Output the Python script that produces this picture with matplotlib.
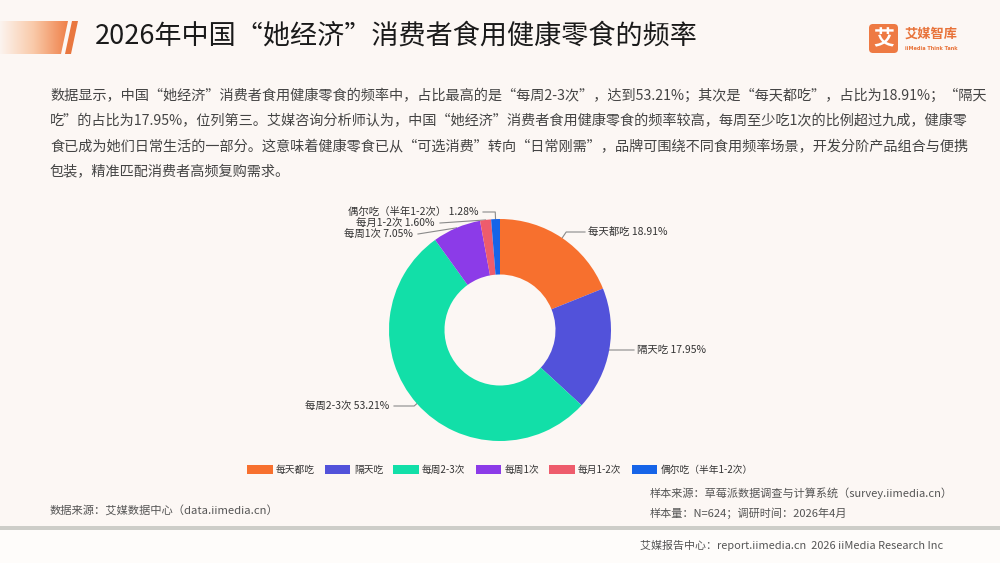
import matplotlib
matplotlib.use('Agg')
import matplotlib.pyplot as plt
import numpy as np
from matplotlib.patches import Polygon, FancyBboxPatch, Rectangle
from matplotlib.colors import LinearSegmentedColormap

plt.rcParams['font.family'] = ['Noto Sans CJK SC', 'DejaVu Sans']

categories = ['每天都吃', '隔天吃', '每周2-3次', '每周1次', '每月1-2次', '偶尔吃（半年1-2次）']
shares = [18.91, 17.95, 53.21, 7.05, 1.60, 1.28]
colors = ['#F7702E', '#5252DA', '#12DFA8', '#8C3BE8', '#EE5C6C', '#1664E8']

title = '2026年中国“她经济”消费者食用健康零食的频率'
para = [
    '数据显示，中国“她经济”消费者食用健康零食的频率中，占比最高的是“每周2-3次”，达到53.21%；其次是“每天都吃”，占比为18.91%；“隔天',
    '吃”的占比为17.95%，位列第三。艾媒咨询分析师认为，中国“她经济”消费者食用健康零食的频率较高，每周至少吃1次的比例超过九成，健康零',
    '食已成为她们日常生活的一部分。这意味着健康零食已从“可选消费”转向“日常刚需”，品牌可围绕不同食用频率场景，开发分阶产品组合与便携',
    '包装，精准匹配消费者高频复购需求。',
]

W, H = 1000, 563
fig = plt.figure(figsize=(W / 100, H / 100), dpi=100, facecolor='#FCF7F4')

# overlay axes in pixel units (y down)
ov = fig.add_axes([0, 0, 1, 1])
ov.set_xlim(0, W)
ov.set_ylim(H, 0)
ov.axis('off')
ov.set_zorder(0)

# lower strip + separator
ov.add_patch(Rectangle((0, 530), W, 33, color='#FEFCFA', lw=0))
ov.add_patch(Rectangle((0, 526), W, 4, color='#CDCDC8', lw=0))

# header gradient bar
grad = np.linspace(0, 1, 256).reshape(1, -1)
cmap = LinearSegmentedColormap.from_list('g', ['#FCF4EF', '#F9C9A8', '#EF8049'])
im = ov.imshow(grad, extent=(0, 68, 54, 21), cmap=cmap, aspect='auto', zorder=1)
clip = Polygon([(0, 21), (68, 21), (61, 54), (0, 54)], closed=True, transform=ov.transData)
im.set_clip_path(clip)
ov.add_patch(Polygon([(72, 21), (78, 21), (71, 54), (65, 54)], closed=True, color='#E9773F', lw=0))

ov.text(95, 36, title, fontsize=19.5, color='#1A1A1A', va='center', ha='left')

# logo
ov.add_patch(FancyBboxPatch((869, 24), 29, 29, boxstyle='round,pad=0,rounding_size=4',
                            fc='#EE7A43', ec='none'))
ov.text(883.5, 39, '艾', fontsize=15, color='white', fontweight='bold', ha='center', va='center')
ov.text(905, 34, '艾媒智库', fontsize=9.5, color='#E8733A', fontweight='bold', ha='left', va='center')
ov.text(905, 48, 'iiMedia Think Tank', fontsize=3.6, color='#E8733A', fontweight='bold',
        ha='left', va='center', family='DejaVu Sans')

# paragraph
for i, line in enumerate(para):
    ov.text(50, 96 + i * 25.5, line, fontsize=10.2, color='#444444', ha='left', va='center')

# donut
cx, cy, R = 500, 330, 111
axp = fig.add_axes([(cx - R) / W, (H - cy - R) / H, 2 * R / W, 2 * R / H])
wedges, _ = axp.pie(shares, colors=colors, startangle=90, counterclock=False,
                    radius=1.0, wedgeprops=dict(width=0.5, linewidth=0))
axp.set_xlim(-1, 1)
axp.set_ylim(-1, 1)
axp.axis('off')

# labels: (line end x, y, ha)
label_pos = [(585, 232, 'left'), (634, 350, 'left'), (394, 406, 'right'),
             (418, 234, 'right'), (440, 223, 'right'), (483, 212, 'right')]

fig.canvas.draw()
to_px = axp.transData + ov.transData.inverted()
cum = np.cumsum([0] + shares)
for i, (cat, v) in enumerate(zip(categories, shares)):
    mid = (cum[i] + cum[i + 1]) / 2 / sum(shares) * 360
    th = np.deg2rad(90 - mid)
    ex, ey = to_px.transform((np.cos(th), np.sin(th)))
    lx, ly, ha = label_pos[i]
    # radial elbow reaching the label row
    dy = ey - cy
    r = (ly - cy) / dy * R if abs(dy) > 1e-6 else R
    if r > R + 1:
        bx, by = to_px.transform((np.cos(th) * r / R, np.sin(th) * r / R))
        pts = [(ex, ey), (bx, ly), (lx, ly)]
    else:
        pts = [(ex, ey), (lx, ly)]
    xs, ys = zip(*pts)
    ov.plot(xs, ys, color='#8A8A8A', lw=0.8, zorder=3)
    tx = lx + 3 if ha == 'left' else lx - 5
    ov.text(tx, ly, f'{cat} {v:.2f}%', fontsize=7.5, color='#333333', ha=ha, va='center', zorder=3)

# legend
leg = fig.legend(wedges, categories, loc='center', bbox_to_anchor=(0.5, 1 - 470 / H), ncol=6,
                 frameon=False, fontsize=7, handlelength=2.6, handleheight=1.0,
                 handletextpad=0.35, columnspacing=1.05, labelcolor='#333333')

# footer
ov.text(50, 510, '数据来源：艾媒数据中心（data.iimedia.cn）', fontsize=8.1, color='#555555', va='center')
ov.text(650, 493, '样本来源：草莓派数据调查与计算系统（survey.iimedia.cn）', fontsize=8.0, color='#555555', va='center')
ov.text(650, 513, '样本量：N=624；调研时间：2026年4月', fontsize=8.0, color='#555555', va='center')
ov.text(640, 545, '艾媒报告中心：report.iimedia.cn  2026 iiMedia Research Inc', fontsize=7.9,
        color='#555555', va='center')

fig.savefig('out.png', dpi=100, facecolor=fig.get_facecolor())
